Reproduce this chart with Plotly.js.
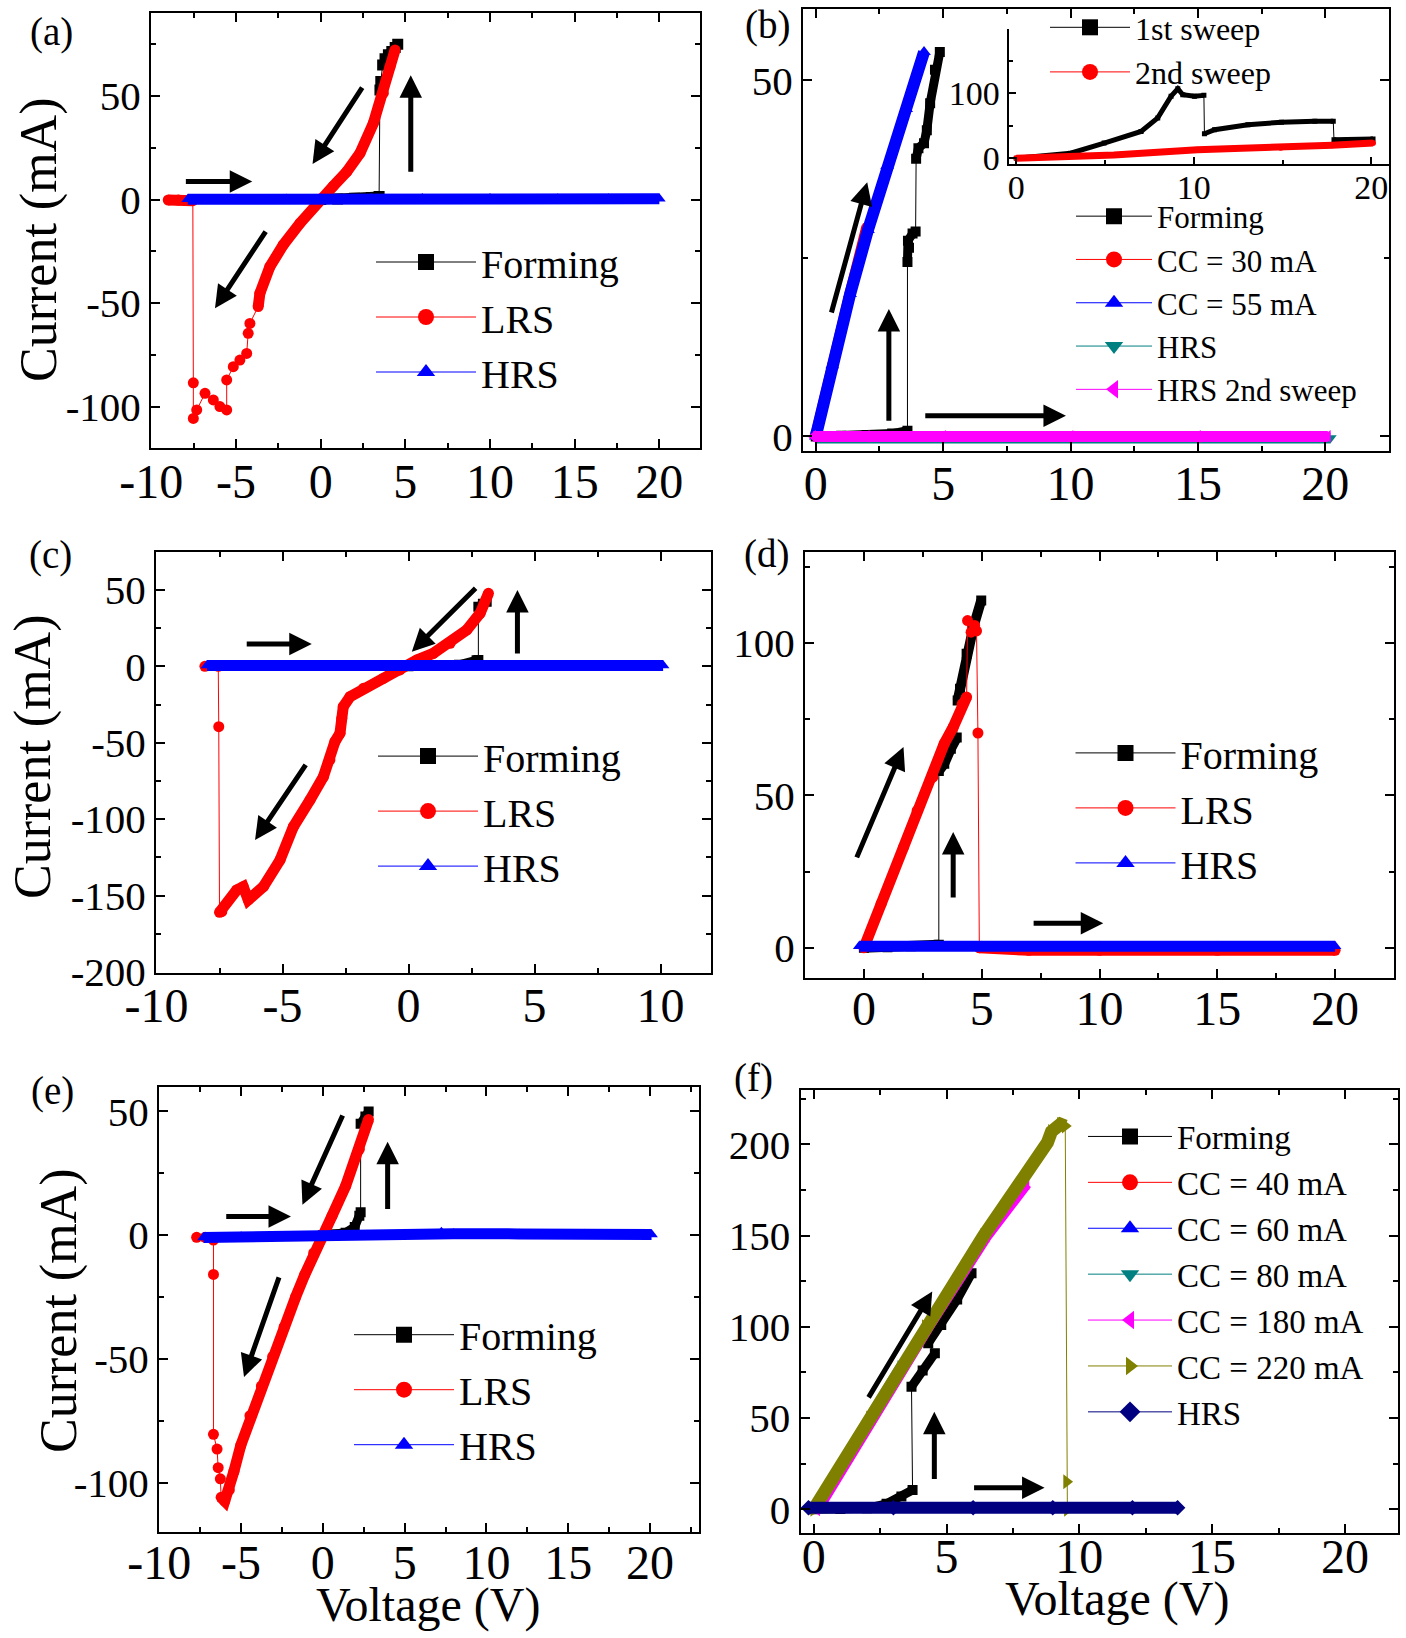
<!DOCTYPE html>
<html><head><meta charset="utf-8">
<script src="https://cdn.plot.ly/plotly-3.0.1.min.js"></script>
<style>html,body{margin:0;padding:0;background:#fff}</style>
</head><body><div id="chart" style="width:1406px;height:1638px"></div>
<script>
// ---------- DATA ----------
// (a)
const aFormV = [0, 1, 2, 3, 3.45, 3.5, 3.55, 3.66, 3.8, 4.0, 4.2, 4.4, 4.55];
const aFormI = [0, 0.3, 0.6, 1.0, 1.5, 53, 57, 65, 68, 70, 71.5, 73.5, 75];
const aLrsV = [-9.0, -8.4, -7.72, -7.55, -7.52, -7.52, -7.32, -6.83, -6.34, -5.95, -5.55, -5.55, -5.16, -4.77, -4.37, -4.28, -4.18, -3.69, -3.59, -3.0, -2.21, -1.22, -0.04, 0.74, 1.54, 2.32, 3.11, 3.70, 4.09, 4.39];
const aLrsI = [-0.2, -0.2, -0.2, -0.5, -88.5, -105.7, -101.6, -93.6, -96.8, -100, -101.6, -87.1, -80.7, -77.5, -74.3, -64.6, -59.8, -51.7, -45.3, -32.4, -21.9, -11.4, 0.3, 6.5, 13.5, 22.4, 36.9, 51.4, 64.2, 72.3];
const aHrsV = [-7.85, -5, -2, 0, 3, 6, 10, 14, 17, 20];
const aHrsI = [0.2, 0.3, 0.3, 0.4, 0.5, 0.5, 0.5, 0.4, 0.4, 0.4];
const aArrows = [[-8.05, 8.7, -4.04, 8.7], [2.51, 54.8, -0.48, 17.2], [5.32, 12.7, 5.32, 60.1], [-3.19, -14.7, -6.24, -52.5]];
const aXTicks = [-10, -5, 0, 5, 10, 15, 20];
const aYTicks = [-100, -50, 0, 50];

// (b)
const bFormV = [0, 1, 2, 3, 3.6, 3.6, 3.66, 3.62, 3.8, 3.92, 3.94, 4.03, 4.25, 4.36, 4.49, 4.68, 4.87];
const bFormI = [0, 0.1, 0.2, 0.4, 0.8, 24.5, 26.5, 27.5, 28.5, 28.8, 39, 40.5, 41.2, 43, 46.8, 51.5, 54];
const bCc30V = [-0.05, 0.6, 1.3, 1.97];
const bCc30I = [0, 10, 20, 29.5];
const bCc55V = [0, 0.65, 1.35, 2.05, 2.8, 3.55, 4.25];
const bCc55I = [0, 10, 20, 29, 38, 46, 54];
const bHrsV = [0, 5, 10, 15, 20.2];
const bHrsI = [-0.2, -0.2, -0.2, -0.2, -0.2];
const bHrs2V = [-0.1, 2, 5, 10, 15, 20.1];
const bHrs2I = [0, 0, 0, 0, 0, 0];
const bArrows = [[0.6, 17.2, 2.02, 35.7], [2.87, 2, 2.87, 17.9], [4.24, 2.9, 9.82, 2.9]];
const bXTicks = [0, 5, 10, 15, 20];
const bYTicks = [0, 50];
// (b) inset
const bIn1V = [0, 3.06, 4.95, 7.03, 7.97, 8.72, 9.1, 9.38, 10.04, 10.57, 10.6, 11.17, 13.05, 14.94, 16.82, 17.86, 17.9, 20.1];
const bIn1I = [0, 7.8, 23.3, 41.4, 62.2, 95.8, 107.3, 98, 95.8, 97, 37.8, 44, 51.8, 55.4, 57, 57, 28.5, 29.5];
const bIn2V = [0, 5.5, 10.2, 14.9, 17.8, 20.1];
const bIn2I = [0, 5.1, 12.9, 16, 20.2, 23.3];
const bInXTicks = [0, 10, 20];
const bInYTicks = [0, 100];

// (c)
const cFormV = [0, 1, 2, 2.7, 2.77, 2.77, 2.95, 3.1];
const cFormI = [0, 0.3, 1, 4, 4.1, 39, 41, 42.3];
const cLrsV = [3.17, 2.84, 2.31, 1.65, 0.98, 0.33, -0.34, -1.0, -1.79, -2.32, -2.59, -2.65, -2.72, -2.92, -3.12, -3.38, -3.91, -4.57, -5.1, -5.76, -6.36, -6.56, -6.82, -7.41, -7.5, -7.53, -7.55, -8.08];
const cLrsI = [47.8, 34.7, 23.8, 15.1, 8.5, 4.1, -2.4, -7.9, -14.4, -19.9, -26.4, -34, -43.8, -49.3, -61.3, -72.3, -87.5, -105, -126.8, -144.2, -152.9, -144.2, -146.4, -160.6, -161, -39.5, 0, 0];
const cHrsV = [-8.0, -5, 0, 5, 10.1];
const cHrsI = [0.6, 0.6, 0.6, 0.6, 0.6];
const cArrows = [[-6.48, 14.6, -3.84, 14.6], [2.72, 52.1, 0.13, 9.6], [4.32, 7.4, 4.32, 50], [-4.04, -63.5, -6.09, -113.7]];
const cXTicks = [-10, -5, 0, 5, 10];
const cYTicks = [-200, -150, -100, -50, 0, 50];

// (d)
const dFormV = [0, 1, 2, 3.1, 3.18, 3.18, 3.41, 3.69, 3.94, 3.98, 4.08, 4.36, 4.65, 4.98];
const dFormI = [0, 0.2, 0.5, 0.8, 1, 58, 60.4, 65.3, 69, 81.2, 85, 96.5, 105.3, 114];
const dLrsV = [0, 0.73, 1.68, 2.26, 2.93, 3.41, 3.79, 4.17, 4.36, 4.4, 4.55, 4.7, 4.78, 4.84, 4.9, 7, 10, 15, 20];
const dLrsI = [0, 14.4, 33, 45, 56, 67, 72.4, 80, 82.3, 107.4, 103.6, 105.8, 104, 70.5, 0, -0.8, -0.8, -0.8, -0.8];
const dHrsV = [-0.2, 2, 5, 10, 15, 20];
const dHrsI = [0.5, 0.5, 0.5, 0.5, 0.5, 0.5];
const dArrows = [[-0.33, 29.2, 1.68, 65.9], [3.79, 16, 3.79, 38], [7.14, 8.1, 10.16, 8.1]];
const dXTicks = [0, 5, 10, 15, 20];
const dYTicks = [0, 50, 100];

// (e)
const eFormV = [0, 0.8, 1.39, 1.95, 2.23, 2.31, 2.31, 2.6, 2.8];
const eFormI = [0, 0.3, 1, 3.3, 7.8, 9.3, 45, 48, 50];
const eLrsV = [2.79, 2.23, 1.39, 0.56, 0, -0.56, -1.12, -1.67, -2.37, -3.07, -3.76, -4.46, -5.02, -5.44, -5.72, -6.0, -6.22, -6.27, -6.4, -6.47, -6.69, -6.69, -6.69, -7.2, -7.72];
const eLrsI = [46.7, 34.7, 19.8, 7.8, 0.3, -7.2, -16.2, -25.1, -37.1, -49.1, -61, -73, -85, -95.5, -103, -107.5, -106, -98.5, -94, -86.5, -80.5, -15.9, -2, -0.9, -0.9];
const eHrsV = [-7.3, -5, 0, 5, 7.25, 8, 12, 16, 20.1];
const eHrsI = [-1.0, -0.7, -0.2, 0.4, 1.2, 0.6, 0.5, 0.4, 0.3];
const eArrows = [[-6.0, 7.5, -1.95, 7.5], [1.25, 49, -1.25, 12.3], [3.96, 10, 3.96, 37.7], [-2.65, -16.5, -4.82, -57.3]];
const eXTicks = [-10, -5, 0, 5, 10, 15, 20];
const eYTicks = [-100, -50, 0, 50];

// (f)
const fFormV = [0, 1, 2, 2.74, 3.3, 3.72, 3.68, 4.1, 4.56, 4.31, 4.8, 5.4, 5.94];
const fFormI = [0, 0.2, 0.5, 3, 7, 10.6, 67.2, 76, 85.5, 91, 101, 115, 129.3];
const fCc40V = [0, 0.9, 1.7];
const fCc40I = [0, 21, 40];
const fCc60V = [0, 1.3, 2.55];
const fCc60I = [0, 30, 60];
const fCc80V = [0, 1.7, 3.35];
const fCc80I = [0, 40, 80];
const fCc180V = [0.12, 2.2, 4.3, 6.5, 8.0];
const fCc180I = [0, 50, 100, 150, 178.6];
const fCc220V = [0, 2.1, 4.2, 6.4, 8.8, 8.95, 9.29, 9.47, 9.52, 9.55];
const fCc220I = [0, 50, 100, 150, 201, 207, 211, 210, 15.1, 0];
const fHrsV = [-0.2, 3, 6, 9, 12, 13.7];
const fHrsI = [0.8, 0.8, 0.8, 0.8, 0.8, 0.8];
const fArrows = [[2.03, 60.5, 4.46, 119.4], [4.54, 15.8, 4.54, 53.4], [5.98, 11.8, 8.69, 11.8]];
const fXTicks = [0, 5, 10, 15, 20];
const fYTicks = [0, 50, 100, 150, 200];

// ---------- STYLE / LAYOUT HELPERS ----------
const W = 1406, H = 1638;
const FONT = '"Liberation Serif", "Times New Roman", serif';
const C = {black:'#000000', red:'#ff0000', blue:'#0000ff', teal:'#008080', magenta:'#ff00ff', olive:'#808000', navy:'#000080'};
function dx(l, r) { return [l / W, r / W]; }
function dy(t, b) { return [1 - b / H, 1 - t / H]; }

const traces = [];
function addSeries(o) {
  (o.bands || []).forEach(function (b) {
    traces.push({type:'scatter', mode:'lines', x:o.x.slice(b[0], b[1] + 1), y:o.y.slice(b[0], b[1] + 1),
      xaxis:o.xa, yaxis:o.ya, line:{color:o.color, width:o.bw}, showlegend:false, hoverinfo:'skip'});
  });
  traces.push({type:'scatter', mode:'lines+markers', x:o.x, y:o.y, xaxis:o.xa, yaxis:o.ya,
    line:{color:o.color, width:1}, marker:{symbol:o.symbol, size:o.ms, color:o.color}, showlegend:false, name:o.name});
  traces.push({type:'scatter', mode:'lines+markers', x:[null], y:[null], xaxis:o.xa, yaxis:o.ya, name:o.name,
    legend:o.leg, line:{color:o.color, width:1}, marker:{symbol:o.symbol, size:16, color:o.color}});
}

function axis(dom, range, ticks, minorD, fs, anchor, extra) {
  return Object.assign({
    domain:dom, range:range, anchor:anchor, tickmode:'array', tickvals:ticks, ticktext:ticks.map(String),
    showline:true, linecolor:'#000', linewidth:2, mirror:'ticks', ticks:'inside', ticklen:9, tickwidth:2, tickcolor:'#000',
    showgrid:false, zeroline:false, fixedrange:true,
    tickfont:{family:FONT, size:fs, color:'#000'},
    minor:{tickmode:'linear', tick0:0, dtick:minorD, ticks:'inside', ticklen:5, tickwidth:2, tickcolor:'#000', showgrid:false}
  }, extra || {});
}
function legendAt(lx, top, fs, iw) {
  return {x:lx / W, y:1 - top / H, xanchor:'left', yanchor:'top', bgcolor:'rgba(0,0,0,0)', borderwidth:0,
    itemwidth:iw, font:{family:FONT, size:fs, color:'#000'}, traceorder:'normal'};
}

// ---------- SERIES ----------
// (a)
addSeries({xa:'x', ya:'y', leg:'legend', name:'Forming', color:C.black, symbol:'square', x:aFormV, y:aFormI, bands:[[0,4],[7,12]], ms:11, bw:10});
addSeries({xa:'x', ya:'y', leg:'legend', name:'LRS', color:C.red, symbol:'circle', x:aLrsV, y:aLrsI, bands:[[0,3],[17,29]], ms:11, bw:11});
addSeries({xa:'x', ya:'y', leg:'legend', name:'HRS', color:C.blue, symbol:'triangle-up', x:aHrsV, y:aHrsI, bands:[[0,9]], ms:11, bw:11});
// (b)
addSeries({xa:'x2', ya:'y2', leg:'legend2', name:'Forming', color:C.black, symbol:'square', x:bFormV, y:bFormI, bands:[[0,4],[5,9],[10,16]], ms:10, bw:9});
addSeries({xa:'x2', ya:'y2', leg:'legend2', name:'CC = 30 mA', color:C.red, symbol:'circle', x:bCc30V, y:bCc30I, bands:[[0,3]], ms:8, bw:9});
addSeries({xa:'x2', ya:'y2', leg:'legend2', name:'CC = 55 mA', color:C.blue, symbol:'triangle-up', x:bCc55V, y:bCc55I, bands:[[0,6]], ms:12, bw:12});
addSeries({xa:'x2', ya:'y2', leg:'legend2', name:'HRS', color:C.teal, symbol:'triangle-down', x:bHrsV, y:bHrsI, bands:[[0,4]], ms:11, bw:11});
addSeries({xa:'x2', ya:'y2', leg:'legend2', name:'HRS 2nd sweep', color:C.magenta, symbol:'triangle-left', x:bHrs2V, y:bHrs2I, bands:[[0,5]], ms:11, bw:11});
// (b) inset
addSeries({xa:'x7', ya:'y7', leg:'legend7', name:'1st sweep', color:C.black, symbol:'square', x:bIn1V, y:bIn1I, bands:[[0,9],[10,15],[16,17]], ms:5, bw:5});
addSeries({xa:'x7', ya:'y7', leg:'legend7', name:'2nd sweep', color:C.red, symbol:'circle', x:bIn2V, y:bIn2I, bands:[[0,5]], ms:6, bw:7});
// (c)
addSeries({xa:'x3', ya:'y3', leg:'legend3', name:'Forming', color:C.black, symbol:'square', x:cFormV, y:cFormI, bands:[[0,4],[5,7]], ms:10, bw:9});
addSeries({xa:'x3', ya:'y3', leg:'legend3', name:'LRS', color:C.red, symbol:'circle', x:cLrsV, y:cLrsI, bands:[[0,24]], ms:11, bw:11});
addSeries({xa:'x3', ya:'y3', leg:'legend3', name:'HRS', color:C.blue, symbol:'triangle-up', x:cHrsV, y:cHrsI, bands:[[0,4]], ms:11, bw:11});
// (d)
addSeries({xa:'x4', ya:'y4', leg:'legend4', name:'Forming', color:C.black, symbol:'square', x:dFormV, y:dFormI, bands:[[0,4],[5,8],[9,13]], ms:10, bw:10});
addSeries({xa:'x4', ya:'y4', leg:'legend4', name:'LRS', color:C.red, symbol:'circle', x:dLrsV, y:dLrsI, bands:[[0,8],[14,18]], ms:11, bw:11});
addSeries({xa:'x4', ya:'y4', leg:'legend4', name:'HRS', color:C.blue, symbol:'triangle-up', x:dHrsV, y:dHrsI, bands:[[0,5]], ms:11, bw:11});
// (e)
addSeries({xa:'x5', ya:'y5', leg:'legend5', name:'Forming', color:C.black, symbol:'square', x:eFormV, y:eFormI, bands:[[0,5],[6,8]], ms:10, bw:9});
addSeries({xa:'x5', ya:'y5', leg:'legend5', name:'LRS', color:C.red, symbol:'circle', x:eLrsV, y:eLrsI, bands:[[0,16]], ms:11, bw:11});
addSeries({xa:'x5', ya:'y5', leg:'legend5', name:'HRS', color:C.blue, symbol:'triangle-up', x:eHrsV, y:eHrsI, bands:[[0,8]], ms:11, bw:11});
// (f)
addSeries({xa:'x6', ya:'y6', leg:'legend6', name:'Forming', color:C.black, symbol:'square', x:fFormV, y:fFormI, bands:[[0,5],[6,8],[9,12]], ms:10, bw:9});
addSeries({xa:'x6', ya:'y6', leg:'legend6', name:'CC = 40 mA', color:C.red, symbol:'circle', x:fCc40V, y:fCc40I, bands:[[0,2]], ms:10, bw:10});
addSeries({xa:'x6', ya:'y6', leg:'legend6', name:'CC = 60 mA', color:C.blue, symbol:'triangle-up', x:fCc60V, y:fCc60I, bands:[[0,2]], ms:10, bw:10});
addSeries({xa:'x6', ya:'y6', leg:'legend6', name:'CC = 80 mA', color:C.teal, symbol:'triangle-down', x:fCc80V, y:fCc80I, bands:[[0,2]], ms:10, bw:10});
addSeries({xa:'x6', ya:'y6', leg:'legend6', name:'CC = 180 mA', color:C.magenta, symbol:'triangle-left', x:fCc180V, y:fCc180I, bands:[[0,4]], ms:12, bw:12});
addSeries({xa:'x6', ya:'y6', leg:'legend6', name:'CC = 220 mA', color:C.olive, symbol:'triangle-right', x:fCc220V, y:fCc220I, bands:[[0,7]], ms:13, bw:13});
addSeries({xa:'x6', ya:'y6', leg:'legend6', name:'HRS', color:C.navy, symbol:'diamond', x:fHrsV, y:fHrsI, bands:[[0,5]], ms:12, bw:12});

// ---------- ANNOTATIONS ----------
const annotations = [];
function addArrows(list, xr, yr) {
  list.forEach(function (a) {
    annotations.push({x:a[2], y:a[3], ax:a[0], ay:a[1], xref:xr, yref:yr, axref:xr, ayref:yr, text:'',
      showarrow:true, arrowhead:2, arrowsize:0.9, arrowwidth:5, arrowcolor:'#000', standoff:0});
  });
}
addArrows(aArrows, 'x', 'y');
addArrows(bArrows, 'x2', 'y2');
addArrows(cArrows, 'x3', 'y3');
addArrows(dArrows, 'x4', 'y4');
addArrows(eArrows, 'x5', 'y5');
addArrows(fArrows, 'x6', 'y6');

function paperText(txt, px, py, fs, angle) {
  annotations.push({text:txt, x:px / W, y:1 - py / H, xref:'paper', yref:'paper', xanchor:'center', yanchor:'middle',
    showarrow:false, textangle:angle || 0, font:{family:FONT, size:fs, color:'#000'}});
}
paperText('(a)', 51, 32, 39);
paperText('(b)', 767, 25, 39);
paperText('(c)', 50, 555, 39);
paperText('(d)', 766, 554, 39);
paperText('(e)', 52, 1091, 39);
paperText('(f)', 754, 1078, 39);
paperText('Current (mA)', 39, 240, 52, -90);
paperText('Current (mA)', 33, 757, 52, -90);
paperText('Current (mA)', 59, 1311, 52, -90);
paperText('Voltage (V)', 428, 1605, 48);
paperText('Voltage (V)', 1117, 1599, 48);

// ---------- LAYOUT ----------
const XF = 48, YF = 41;
const layout = {
  width:W, height:H, margin:{l:0, r:0, t:0, b:0}, paper_bgcolor:'#fff', plot_bgcolor:'rgba(0,0,0,0)',
  font:{family:FONT, color:'#000'}, showlegend:true,
  xaxis: axis(dx(151, 700), [-10.02, 22.4], aXTicks, 2.5, XF, 'y', {ticklabelstandoff:-10}),
  yaxis: axis(dy(13.3, 448), [-120, 90], aYTicks, 25, YF, 'x'),
  xaxis2: axis(dx(803, 1389), [-0.5, 22.5], bXTicks, 2.5, XF, 'y2', {ticklabelstandoff:-10}),
  yaxis2: axis(dy(9.3, 450.7), [-2, 60], bYTicks, 25, YF, 'x2'),
  xaxis3: axis(dx(156, 711), [-10.02, 12], cXTicks, 2.5, XF, 'y3', {ticklabelstandoff:-10}),
  yaxis3: axis(dy(551.7, 972.7), [-200.5, 75], cYTicks, 25, YF, 'x3'),
  xaxis4: axis(dx(805, 1394), [-2.5, 22.5], dXTicks, 2.5, XF, 'y4', {ticklabelstandoff:-13}),
  yaxis4: axis(dy(551.7, 978.3), [-10, 130], dYTicks, 25, YF, 'x4'),
  xaxis5: axis(dx(159, 699), [-10.02, 23], eXTicks, 2.5, XF, 'y5', {ticklabelstandoff:-13}),
  yaxis5: axis(dy(1086.7, 1532), [-120, 60], eYTicks, 25, YF, 'x5'),
  xaxis6: axis(dx(800.5, 1398), [-0.5, 22], fXTicks, 2.5, XF, 'y6', {ticklabelstandoff:-20}),
  yaxis6: axis(dy(1089.6, 1533), [-13, 230], fYTicks, 25, YF, 'x6'),
  xaxis7: axis(dx(1008.5, 1389), [-0.44, 21], bInXTicks, 5, 34, 'y7', {mirror:false, ticklen:7, ticklabelstandoff:-8, minor:{tickmode:'linear', tick0:0, dtick:5, ticks:'inside', ticklen:4, tickwidth:2, tickcolor:'#000'}}),
  yaxis7: axis(dy(29.3, 164.3), [-9.4, 199], bInYTicks, 50, 34, 'x7', {mirror:false, ticklen:7, minor:{tickmode:'linear', tick0:0, dtick:50, ticks:'inside', ticklen:4, tickwidth:2, tickcolor:'#000'}}),
  legend: legendAt(371, 229.5, 40, 100),
  legend2: legendAt(1071, 189.5, 31, 76),
  legend3: legendAt(373, 723.6, 40, 100),
  legend4: legendAt(1070.5, 720.4, 40, 100),
  legend5: legendAt(349, 1302.2, 40, 100),
  legend6: legendAt(1083, 1108.5, 33, 84),
  legend7: legendAt(1045, 0, 32, 80),
  annotations: annotations
};

Plotly.newPlot('chart', traces, layout, {staticPlot:true, displayModeBar:false});
</script>
</body></html>
